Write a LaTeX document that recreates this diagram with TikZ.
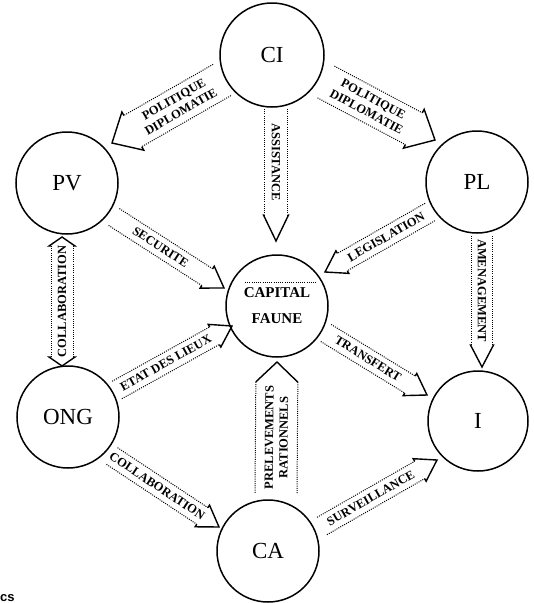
\documentclass[tikz,border=0pt]{standalone}
\usepackage{fontspec}
\setmainfont{Liberation Serif}
\setsansfont{Liberation Sans}
\newdimen\bax \newdimen\bay \newdimen\bbx \newdimen\bby
\newcommand\getends[2]{%
 \pgfextractx{\bax}{\pgfpointanchor{#1}{center}}%
 \pgfextracty{\bay}{\pgfpointanchor{#1}{center}}%
 \pgfextractx{\bbx}{\pgfpointanchor{#2}{center}}%
 \pgfextracty{\bby}{\pgfpointanchor{#2}{center}}%
 \pgfmathsetmacro\barang{atan2(\bby-\bay,\bbx-\bax)}%
 \pgfmathsetmacro\barlen{veclen(\bbx-\bax,\bby-\bay)}}
% #1 from, #2 to, #3 half width, #4 head length, #5 flare, #6 label, #7 label extra rotation
\newcommand\blockarrow[7]{%
 \getends{#1}{#2}%
 \begin{scope}[shift={(\the\bax,\the\bay)},rotate=\barang]
  \draw[shaftline] (0pt,#3) -- ({\barlen pt-#4},#3);
  \draw[shaftline] (0pt,-#3) -- ({\barlen pt-#4},-#3);
  \draw[headline] ({\barlen pt-#4},#3) -- ({\barlen pt-#4},{#3+#5}) -- (\barlen pt,0pt)
     -- ({\barlen pt-#4},{-#3-#5}) -- ({\barlen pt-#4},-#3);
  \node[lbl,transform shape,rotate=#7] at ({(\barlen pt-#4)/2},0pt) {#6};
 \end{scope}}
\newcommand\blockarrowboth[7]{%
 \getends{#1}{#2}%
 \begin{scope}[shift={(\the\bax,\the\bay)},rotate=\barang]
  \draw[shaftline] (#4,#3) -- ({\barlen pt-#4},#3);
  \draw[shaftline] (#4,-#3) -- ({\barlen pt-#4},-#3);
  \draw[headline] ({\barlen pt-#4},#3) -- ({\barlen pt-#4},{#3+#5}) -- (\barlen pt,0pt)
     -- ({\barlen pt-#4},{-#3-#5}) -- ({\barlen pt-#4},-#3);
  \draw[headline] (#4,#3) -- (#4,{#3+#5}) -- (0pt,0pt) -- (#4,{-#3-#5}) -- (#4,-#3);
  \node[lbl,transform shape,rotate=#7] at ({\barlen pt/2},0pt) {#6};
 \end{scope}}
\tikzset{
  ent/.style={circle,draw,line width=1.5pt,inner sep=0pt,minimum size=102pt,font=\fontsize{23}{26}\selectfont},
  shaftline/.style={line width=1pt,dash pattern=on 1pt off 1.2pt},
  headline/.style={line width=1.4pt,line join=miter},
  lbl/.style={font=\bfseries\fontsize{12.5}{14.5}\selectfont,inner sep=0pt,align=center}
}
\begin{document}
\begin{tikzpicture}[x=1pt,y=-1pt]
\useasboundingbox (0,0) rectangle (534,603);
% entities
\node[ent,minimum size=104pt] (CI) at (272,55) {CI};
\node[ent] (PV) at (67,183) {PV};
\node[ent] (PL) at (477,182) {PL};
\node[ent,align=center,font=\bfseries\fontsize{15}{26}\selectfont] (CF) at (277,306) {CAPITAL\\FAUNE};
\node[ent] (ONG) at (68,417) {ONG};
\node[ent,minimum size=100pt] (I) at (478,421) {I};
\node[ent] (CA) at (268,551) {CA};
\draw[shaftline] ([xshift=-32pt,yshift=24pt]CF.center) -- ([xshift=40pt,yshift=24pt]CF.center);
% arrow end points
\coordinate (a1s) at (222,80);  \coordinate (a1e) at (112,143);
\coordinate (a2s) at (326,82);  \coordinate (a2e) at (435,140);
\coordinate (a3s) at (276,109); \coordinate (a3e) at (276,241);
\coordinate (a4s) at (114,217); \coordinate (a4e) at (224,288);
\coordinate (a5s) at (430,212); \coordinate (a5e) at (325,272);
\coordinate (a6s) at (482,236); \coordinate (a6e) at (482,367);
\coordinate (a7s) at (326,333); \coordinate (a7e) at (427,395);
\coordinate (a8s) at (117,390); \coordinate (a8e) at (232,326);
\coordinate (a9s) at (62,366);  \coordinate (a9e) at (62,237);
\coordinate (a10s) at (112,456); \coordinate (a10e) at (219,527);
\coordinate (a11s) at (276,493); \coordinate (a11e) at (277,362);
\coordinate (a12s) at (322,526); \coordinate (a12e) at (437,460);
% arrows
\blockarrow{a1s}{a1e}{18pt}{24pt}{4pt}{POLITIQUE\\DIPLOMATIE}{180}
\blockarrow{a2s}{a2e}{18pt}{24pt}{4pt}{POLITIQUE\\DIPLOMATIE}{0}
\blockarrow{a3s}{a3e}{11.5pt}{26pt}{1pt}{ASSISTANCE}{0}
\blockarrow{a4s}{a4e}{10pt}{20pt}{3pt}{SECURITE}{0}
\blockarrow{a5s}{a5e}{10pt}{20pt}{3pt}{LEGISLATION}{180}
\blockarrow{a6s}{a6e}{10.5pt}{22pt}{1pt}{AMENAGEMENT}{0}
\blockarrow{a7s}{a7e}{10pt}{20pt}{3pt}{TRANSFERT}{0}
\blockarrow{a8s}{a8e}{10pt}{20pt}{3pt}{ETAT DES LIEUX}{0}
\blockarrowboth{a9s}{a9e}{11pt}{9pt}{2pt}{COLLABORATION}{0}
\blockarrow{a10s}{a10e}{10pt}{20pt}{3pt}{COLLABORATION}{0}
\blockarrow{a11s}{a11e}{21pt}{20pt}{0pt}{PRELEVEMENTS\\RATIONNELS}{0}
\blockarrow{a12s}{a12e}{10pt}{20pt}{3pt}{SURVEILLANCE}{0}
% stray caption fragment
\node[font=\sffamily\bfseries\fontsize{13}{13}\selectfont,anchor=base west,inner sep=0pt] (cs) at (0,601) {cs};
\end{tikzpicture}
\end{document}
